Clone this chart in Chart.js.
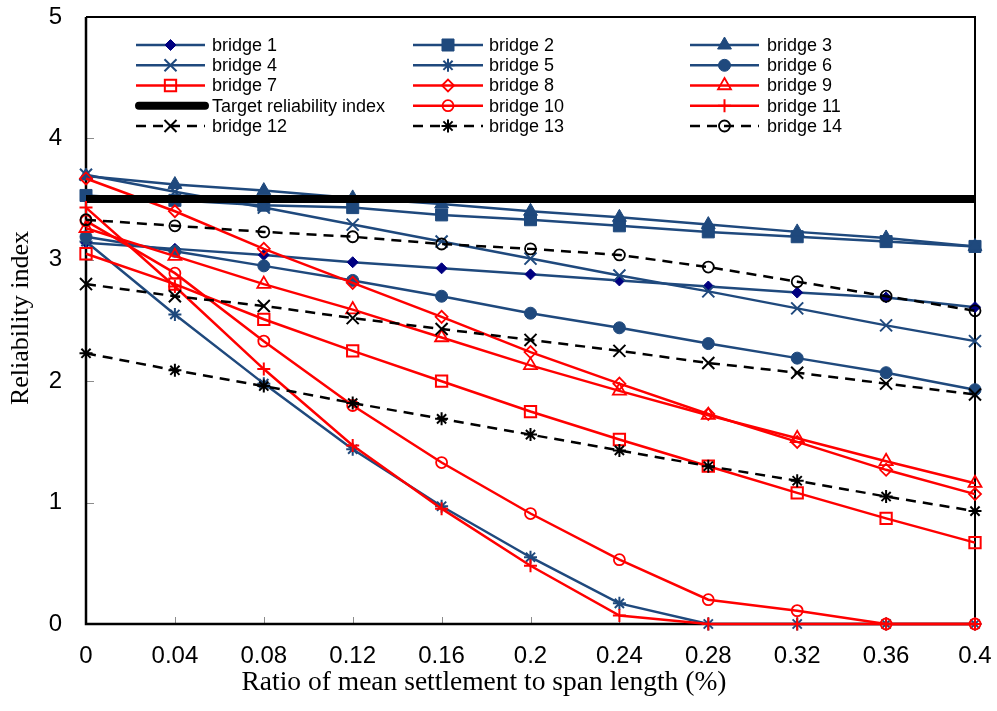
<!DOCTYPE html>
<html>
<head>
<meta charset="utf-8">
<script src="https://cdn.jsdelivr.net/npm/chart.js@4/dist/chart.umd.min.js"></script>
<style>
html,body{margin:0;padding:0;background:#fff;}
#wrap{width:997px;height:711px;position:relative;}
</style>
</head>
<body>
<div id="wrap"><canvas id="c"></canvas></div>
<script>
const xValues = [0, 0.04, 0.08, 0.12, 0.16, 0.2, 0.24, 0.28, 0.32, 0.36, 0.4];
const xTickLabels = ["0", "0.04", "0.08", "0.12", "0.16", "0.2", "0.24", "0.28", "0.32", "0.36", "0.4"];
const yTicks = [0, 1, 2, 3, 4, 5];

const bridge1  = [3.14, 3.09, 3.04, 2.98, 2.93, 2.88, 2.83, 2.78, 2.73, 2.69, 2.61];
const bridge2  = [3.53, 3.49, 3.45, 3.43, 3.37, 3.33, 3.28, 3.23, 3.19, 3.15, 3.11];
const bridge3  = [3.69, 3.62, 3.57, 3.51, 3.46, 3.40, 3.35, 3.29, 3.23, 3.18, 3.11];
const bridge4  = [3.70, 3.56, 3.43, 3.29, 3.15, 3.01, 2.87, 2.74, 2.60, 2.46, 2.33];
const bridge5  = [3.15, 2.55, 1.98, 1.44, 0.97, 0.55, 0.17, 0, 0, 0, 0];
const bridge6  = [3.19, 3.07, 2.95, 2.83, 2.70, 2.56, 2.44, 2.31, 2.19, 2.07, 1.93];
const bridge7  = [3.05, 2.80, 2.51, 2.25, 2.00, 1.75, 1.52, 1.30, 1.08, 0.87, 0.67];
const bridge8  = [3.67, 3.40, 3.09, 2.81, 2.53, 2.24, 1.98, 1.73, 1.50, 1.27, 1.07];
const bridge9  = [3.26, 3.03, 2.80, 2.59, 2.36, 2.13, 1.92, 1.72, 1.53, 1.34, 1.16];
const target   = [3.5, 3.5, 3.5, 3.5, 3.5, 3.5, 3.5, 3.5, 3.5, 3.5, 3.5];
const bridge10 = [3.32, 2.89, 2.33, 1.80, 1.33, 0.91, 0.53, 0.20, 0.11, 0, 0];
const bridge11 = [3.43, 2.78, 2.10, 1.47, 0.95, 0.48, 0.07, 0, 0, 0, 0];
const bridge12 = [2.80, 2.70, 2.62, 2.52, 2.43, 2.34, 2.25, 2.15, 2.07, 1.98, 1.89];
const bridge13 = [2.23, 2.09, 1.96, 1.82, 1.69, 1.56, 1.43, 1.30, 1.18, 1.05, 0.93];
const bridge14 = [3.33, 3.28, 3.23, 3.19, 3.13, 3.09, 3.04, 2.94, 2.82, 2.70, 2.58];

const seriesNames = ["bridge 1","bridge 2","bridge 3","bridge 4","bridge 5","bridge 6","bridge 7","bridge 8","bridge 9","Target reliability index","bridge 10","bridge 11","bridge 12","bridge 13","bridge 14"];
const seriesValues = [bridge1,bridge2,bridge3,bridge4,bridge5,bridge6,bridge7,bridge8,bridge9,target,bridge10,bridge11,bridge12,bridge13,bridge14];

const BLUE = '#1F497D', NAVY = '#000080', RED = '#FF0000', BLACK = '#000000', NONE = 'rgba(0,0,0,0)';
const styles = [
  {c:BLUE, ps:'rectRot', r:5.5, bg:NAVY, pc:NAVY, pw:1},
  {c:BLUE, ps:'rect', r:8.5, bg:BLUE, pc:BLUE, pw:1},
  {c:BLUE, ps:'triangle', r:8, bg:BLUE, pc:BLUE, pw:1},
  {c:BLUE, ps:'crossRot', r:8.5, bg:NONE, pc:BLUE, pw:2},
  {c:BLUE, ps:'star', r:6.5, bg:NONE, pc:BLUE, pw:2},
  {c:BLUE, ps:'circle', r:6, bg:BLUE, pc:BLUE, pw:1},
  {c:RED, ps:'rect', r:8, bg:NONE, pc:RED, pw:2},
  {c:RED, ps:'rectRot', r:6, bg:NONE, pc:RED, pw:1.8},
  {c:RED, ps:'triangle', r:7.5, bg:NONE, pc:RED, pw:1.8},
  {c:BLACK, ps:'circle', r:0, bg:NONE, pc:BLACK, pw:0, w:8},
  {c:RED, ps:'circle', r:5.5, bg:NONE, pc:RED, pw:1.8},
  {c:RED, ps:'cross', r:6.5, bg:NONE, pc:RED, pw:2},
  {c:BLACK, ps:'crossRot', r:8.5, bg:NONE, pc:BLACK, pw:2, dash:[10,7]},
  {c:BLACK, ps:'star', r:6.5, bg:NONE, pc:BLACK, pw:2, dash:[10,7]},
  {c:BLACK, ps:'circle', r:5.5, bg:NONE, pc:BLACK, pw:1.8, dash:[10,7]}
];

const datasets = seriesValues.map((vals, i) => {
  const s = styles[i];
  return {
    label: seriesNames[i],
    data: xValues.map((x, j) => ({x: x, y: vals[j]})),
    borderColor: s.c,
    borderWidth: s.w || 2.5,
    borderDash: s.dash || [],
    pointStyle: s.ps,
    pointRadius: s.r,
    pointHoverRadius: s.r,
    pointBackgroundColor: s.bg,
    pointBorderColor: s.pc,
    pointBorderWidth: s.pw,
    fill: false,
    tension: 0,
    clip: false,
    order: -i
  };
});

const FONT_SANS = "'Liberation Sans', Arial, sans-serif";
const FONT_SERIF = "'Liberation Serif', 'Times New Roman', serif";

function drawMarker(ctx, ds, x, y) {
  if (!ds.pointRadius) return;
  ctx.save();
  ctx.fillStyle = ds.pointBackgroundColor;
  ctx.strokeStyle = ds.pointBorderColor;
  ctx.lineWidth = ds.pointBorderWidth;
  ctx.setLineDash([]);
  Chart.helpers.drawPoint(ctx, {pointStyle: ds.pointStyle, radius: ds.pointRadius, rotation: 0, borderWidth: ds.pointBorderWidth}, x, y);
  ctx.restore();
}

const framePlugin = {
  id: 'frame',
  beforeDatasetsDraw(chart) {
    const {ctx, chartArea: a, scales} = chart;
    ctx.save();
    ctx.strokeStyle = '#8c8c8c';
    ctx.lineWidth = 1;
    xValues.forEach(v => {
      const px = Math.round(scales.x.getPixelForValue(v)) + 0.5;
      ctx.beginPath(); ctx.moveTo(px, a.bottom); ctx.lineTo(px, a.bottom - 7); ctx.stroke();
    });
    yTicks.forEach(v => {
      const py = Math.round(scales.y.getPixelForValue(v)) + 0.5;
      ctx.beginPath(); ctx.moveTo(a.left, py); ctx.lineTo(a.left + 8, py); ctx.stroke();
    });
    ctx.strokeStyle = '#000';
    ctx.lineWidth = 2;
    ctx.beginPath();
    ctx.moveTo(a.left, a.top); ctx.lineTo(a.right, a.top); ctx.lineTo(a.right, a.bottom);
    ctx.stroke();
    ctx.lineWidth = 2.5;
    ctx.beginPath();
    ctx.moveTo(a.left, a.top); ctx.lineTo(a.left, a.bottom); ctx.lineTo(a.right, a.bottom);
    ctx.stroke();
    ctx.restore();
  }
};

const legendPlugin = {
  id: 'customLegend',
  afterDraw(chart) {
    const ctx = chart.ctx;
    const cols = [[136, 205, 212], [413, 483, 489], [690, 759, 767]];
    const rows = [45, 65.3, 85.5, 105.7, 126];
    chart.data.datasets.forEach((ds, i) => {
      const [x0, x1, tx] = cols[i % 3];
      const y = rows[Math.floor(i / 3)];
      ctx.save();
      ctx.strokeStyle = ds.borderColor;
      ctx.lineWidth = ds.borderWidth;
      if (ds.borderWidth > 4) {
        ctx.lineCap = 'round';
        ctx.beginPath(); ctx.moveTo(x0 + 3, y); ctx.lineTo(x1 + 0, y); ctx.stroke();
      } else {
        ctx.setLineDash(ds.borderDash || []);
        ctx.beginPath(); ctx.moveTo(x0, y); ctx.lineTo(x1, y); ctx.stroke();
      }
      ctx.restore();
      drawMarker(ctx, ds, (x0 + x1) / 2, y);
      ctx.save();
      ctx.fillStyle = '#000';
      ctx.font = "18px " + FONT_SANS;
      ctx.textBaseline = 'middle';
      ctx.textAlign = 'left';
      ctx.fillText(ds.label, tx, y + 1);
      ctx.restore();
    });
  }
};

const titlesPlugin = {
  id: 'axisTitles',
  afterDraw(chart) {
    const ctx = chart.ctx;
    ctx.save();
    ctx.fillStyle = '#000';
    ctx.font = "27.5px " + FONT_SERIF;
    ctx.textAlign = 'center';
    ctx.textBaseline = 'alphabetic';
    ctx.fillText("Ratio of mean settlement to span length (%)", 484, 690);
    ctx.translate(28, 318);
    ctx.rotate(-Math.PI / 2);
    ctx.font = "26px " + FONT_SERIF;
    ctx.fillText("Reliability index", 0, 0);
    ctx.restore();
  }
};

new Chart(document.getElementById('c'), {
  type: 'line',
  data: {datasets: datasets},
  options: {
    responsive: true,
    maintainAspectRatio: false,
    animation: false,
    events: [],
    layout: {padding: {top: 17, right: 22, left: 0, bottom: 0}},
    plugins: {legend: {display: false}, tooltip: {enabled: false}, title: {display: false}},
    scales: {
      x: {
        type: 'linear',
        min: 0, max: 0.4,
        grid: {display: false, drawTicks: false},
        border: {display: false},
        afterBuildTicks(scale) { scale.ticks = xValues.map(v => ({value: v})); },
        afterFit(scale) { scale.height = 87; scale.paddingLeft = 0; scale.paddingRight = 0; scale.paddingTop = 0; scale.paddingBottom = 0; },
        ticks: {
          autoSkip: false, maxRotation: 0,
          color: '#000', padding: 18,
          font: {size: 24, family: FONT_SANS},
          callback: (v, i) => xTickLabels[i]
        }
      },
      y: {
        type: 'linear',
        min: 0, max: 5,
        grid: {display: false, drawTicks: false},
        border: {display: false},
        afterFit(scale) { scale.width = 86; scale.paddingLeft = 0; scale.paddingRight = 0; scale.paddingTop = 0; scale.paddingBottom = 0; },
        ticks: {
          stepSize: 1, color: '#000', padding: 24,
          font: {size: 24, family: FONT_SANS},
          callback: v => String(v)
        }
      }
    }
  },
  plugins: [framePlugin, legendPlugin, titlesPlugin]
});
</script>
</body>
</html>
